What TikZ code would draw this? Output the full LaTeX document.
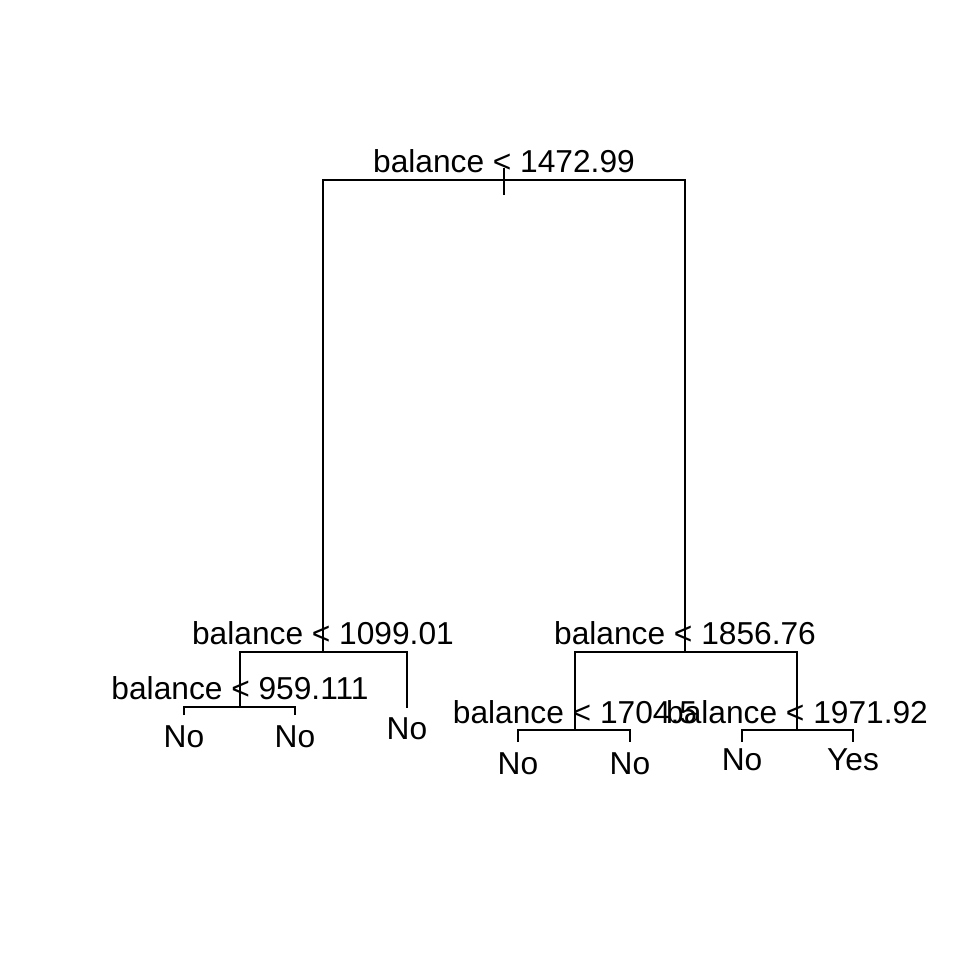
\documentclass[tikz,border=0pt]{standalone}
\usepackage{fontspec}
\setmainfont{Liberation Sans}
\begin{document}
\begin{tikzpicture}[x=1pt,y=-1pt,
  edge/.style={draw=black,line width=1.6pt},
  lbl/.style={anchor=base,inner sep=0pt,font=\fontsize{31.7}{38}\selectfont}]
\useasboundingbox[fill=white] (0,0) rectangle (960,960);
% split points
\coordinate (rtop) at (504,168);
\coordinate (rbot) at (504,195);
\coordinate (rL) at (323,180);
\coordinate (rR) at (685,180);
\coordinate (a) at (323,652);
\coordinate (aL) at (240,652);
\coordinate (aR) at (407,652);
\coordinate (aRe) at (407,708);
\coordinate (b) at (240,707);
\coordinate (bL) at (184,707);
\coordinate (bR) at (295,707);
\coordinate (bLe) at (184,715);
\coordinate (bRe) at (295,715);
\coordinate (c) at (685,652);
\coordinate (cL) at (575,652);
\coordinate (cR) at (797,652);
\coordinate (d) at (575,730);
\coordinate (dL) at (518,730);
\coordinate (dR) at (630,730);
\coordinate (dLe) at (518,742);
\coordinate (dRe) at (630,742);
\coordinate (e) at (797,730);
\coordinate (eL) at (742,730);
\coordinate (eR) at (853,730);
\coordinate (eLe) at (742,742);
\coordinate (eRe) at (853,742);
% connectors
\draw[edge] (rtop) -- (rbot);
\draw[edge] (a) -- (rL) -- (rR) -- (c);
\draw[edge] (b) -- (aL) -- (aR) -- (aRe);
\draw[edge] (bLe) -- (bL) -- (bR) -- (bRe);
\draw[edge] (d) -- (cL) -- (cR) -- (e);
\draw[edge] (dLe) -- (dL) -- (dR) -- (dRe);
\draw[edge] (eLe) -- (eL) -- (eR) -- (eRe);
% labels
\node[lbl] (t0) at (504,173) {balance < 1472.99};
\node[lbl] (t1) at (323,644) {balance < 1099.01};
\node[lbl] (t2) at (240,699) {balance < 959.111};
\node[lbl] (t3) at (685,644) {balance < 1856.76};
\node[lbl] (t4) at (575,723) {balance < 1704.5};
\node[lbl] (t5) at (797,723) {balance < 1971.92};
\node[lbl] (l1) at (184,747) {No};
\node[lbl] (l2) at (295,747) {No};
\node[lbl] (l3) at (407,739) {No};
\node[lbl] (l4) at (518,774) {No};
\node[lbl] (l5) at (630,774) {No};
\node[lbl] (l6) at (742,770) {No};
\node[lbl] (l7) at (853,770) {Yes};
\end{tikzpicture}
\end{document}
